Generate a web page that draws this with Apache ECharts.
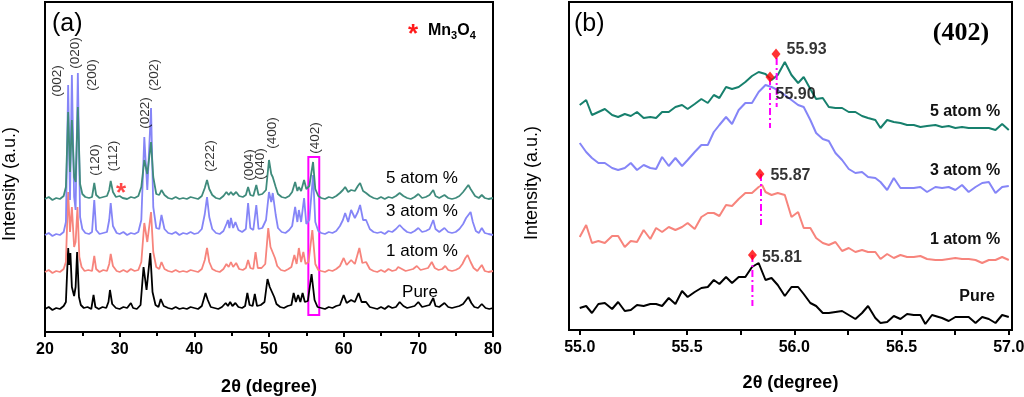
<!DOCTYPE html>
<html>
<head>
<meta charset="utf-8">
<script src="https://cdn.jsdelivr.net/npm/echarts@6/dist/echarts.min.js"></script>
<style>
  html, body { margin: 0; padding: 0; background: #fff; }
  #chart { width: 1024px; height: 397px; }
</style>
</head>
<body>
<div id="chart"></div>
<script>
// ---- panel (a): full XRD patterns, [2theta, offset intensity] ----
const pure = [[20,23],[20.5,25],[21,22],[21.5,24],[22,23],[22.5,26],[22.8,30],[23.1,84],[23.25,67],[23.4,79],[23.6,45],[23.9,36],[24.1,45],[24.3,80],[24.55,35],[24.8,27],[25.2,24],[25.7,25],[26.2,23],[26.5,37],[26.75,25],[27.2,23],[27.7,25],[28.2,24],[28.5,30],[28.7,42],[29.0,28],[29.5,24],[30,23],[30.5,25],[31,24],[31.5,29],[31.8,24],[32.3,23],[32.8,27],[33.2,65],[33.6,42],[34.1,79],[34.4,40],[34.8,27],[35.2,25],[35.5,33],[35.9,26],[36.5,24],[37,23],[37.5,25],[38,23],[38.5,24],[39,23],[39.5,25],[40,24],[40.5,23],[41,26],[41.5,39],[41.8,32],[42.2,25],[42.7,24],[43.2,23],[43.7,25],[44.2,29],[44.5,26],[44.8,30],[45.1,26],[45.5,29],[45.9,25],[46.4,24],[46.8,26],[47.1,39],[47.4,27],[47.8,26],[48.1,38],[48.4,26],[48.9,27],[49.4,30],[49.8,53],[50.1,45],[50.3,44],[50.7,35],[51,28],[51.5,25],[52,24],[52.5,26],[53,27],[53.3,39],[53.6,30],[53.9,37],[54.2,30],[54.5,39],[54.8,30],[55.2,31],[55.7,58],[56.1,32],[56.5,25],[57,24],[57.5,23],[58,25],[58.5,24],[59,26],[59.5,27],[60,37],[60.4,29],[61,32],[61.5,30],[62,39],[62.4,30],[63,30],[63.5,25],[64,24],[64.5,23],[65,25],[65.5,23],[66,26],[66.5,24],[67,25],[67.5,30],[68,26],[68.5,24],[69,25],[69.5,26],[70,30],[70.5,25],[71,26],[71.5,27],[72,34],[72.3,26],[72.8,25],[73.5,29],[74,25],[74.5,24],[75,25],[75.5,26],[76,28],[76.4,32],[76.7,35],[77.1,29],[77.5,25],[78,24],[78.5,28],[79,24],[79.5,23],[80,24]];

const atom1 = [[20,60],[20.5,62],[21,59],[21.5,61],[22,60],[22.5,63],[22.8,70],[23.1,140],[23.35,100],[23.6,125],[23.9,85],[24.1,90],[24.35,125],[24.6,75],[24.9,65],[25.3,61],[25.8,62],[26.3,61],[26.6,76],[26.85,63],[27.3,60],[27.8,62],[28.3,61],[28.6,68],[28.8,78],[29.1,66],[29.6,61],[30,60],[30.5,62],[31,60],[31.5,63],[32,61],[32.5,62],[32.9,70],[33.3,109],[33.7,90],[34.2,120],[34.5,80],[34.9,65],[35.3,63],[35.6,70],[36,63],[36.5,61],[37,60],[37.5,62],[38,60],[38.5,61],[39,60],[39.5,62],[40,61],[40.5,60],[41,63],[41.4,72],[41.7,84],[42,70],[42.4,63],[42.9,61],[43.4,60],[43.9,63],[44.3,68],[44.6,65],[44.9,70],[45.2,65],[45.6,69],[46,63],[46.5,62],[46.9,64],[47.2,72],[47.5,64],[47.9,63],[48.2,80],[48.5,64],[49,64],[49.5,68],[49.9,104],[50.2,85],[50.4,84],[50.8,74],[51.1,66],[51.6,62],[52.1,61],[52.6,63],[53,65],[53.4,77],[53.7,68],[54,84],[54.3,70],[54.6,80],[54.9,68],[55.3,70],[55.8,102],[56.2,68],[56.6,62],[57,61],[57.5,60],[58,62],[58.5,61],[59,63],[59.5,66],[60,74],[60.4,67],[61,72],[61.5,68],[62.1,84],[62.5,69],[63,70],[63.5,63],[64,61],[64.5,60],[65,62],[65.5,60],[66,63],[66.5,61],[67,62],[67.3,65],[67.8,63],[68.3,61],[68.8,62],[69.3,63],[69.8,66],[70.3,62],[70.8,63],[71.3,64],[71.8,70],[72.2,64],[72.7,62],[73.2,63],[73.6,66],[74,62],[74.5,61],[75,62],[75.5,64],[75.9,68],[76.3,74],[76.6,77],[77,70],[77.4,64],[77.9,61],[78.5,67],[78.9,61],[79.4,60],[80,61]];

const atom3 = [[20,97],[20.5,99],[21,96],[21.5,98],[22,97],[22.5,100],[22.8,110],[23.1,247],[23.35,132],[23.6,257],[23.9,135],[24.1,122],[24.4,259],[24.7,115],[25,103],[25.4,99],[25.9,98],[26.3,100],[26.6,132],[26.85,102],[27.3,98],[27.8,99],[28.3,100],[28.6,112],[28.8,129],[29.1,106],[29.6,99],[30,98],[30.5,100],[31,97],[31.5,99],[32,98],[32.5,100],[32.9,112],[33.3,195],[33.7,142],[34.2,224],[34.5,125],[34.9,104],[35.3,103],[35.6,117],[36,103],[36.5,99],[37,98],[37.5,100],[38,97],[38.5,99],[39,98],[39.5,100],[40,98],[40.5,99],[41,103],[41.4,118],[41.7,135],[42,115],[42.4,103],[42.9,99],[43.4,98],[43.9,101],[44.3,108],[44.5,112],[44.7,104],[44.9,114],[45.2,104],[45.5,110],[45.9,102],[46.4,100],[46.9,103],[47.2,129],[47.5,104],[47.9,102],[48.3,127],[48.6,103],[49.1,104],[49.6,112],[50,140],[50.3,130],[50.5,139],[50.9,117],[51.2,104],[51.7,100],[52.2,99],[52.7,102],[53.1,106],[53.5,125],[53.8,110],[54,122],[54.3,110],[54.7,134],[55,108],[55.4,112],[55.9,157],[56.2,110],[56.6,101],[57,99],[57.5,98],[58,100],[58.5,99],[59,101],[59.5,106],[59.9,112],[60.2,119],[60.6,110],[61,122],[61.5,114],[61.9,120],[62.2,127],[62.6,112],[63,112],[63.5,103],[64,100],[64.5,99],[65,100],[65.5,98],[66,101],[66.5,100],[67,103],[67.5,107],[68,103],[68.5,100],[69,99],[69.5,101],[70,104],[70.5,100],[71,101],[71.5,103],[72,112],[72.3,103],[72.8,100],[73.5,104],[74,100],[74.5,99],[75,100],[75.5,103],[76,108],[76.4,114],[76.7,117],[77,120],[77.3,110],[77.7,101],[78.1,99],[78.5,104],[78.9,99],[79.4,98],[80,97]];

const atom5 = [[20,133],[20.5,135],[21,132],[21.5,134],[22,133],[22.5,136],[22.8,145],[23.1,220],[23.35,160],[23.6,212],[23.9,155],[24.1,150],[24.4,225],[24.7,148],[25,138],[25.4,135],[25.9,134],[26.3,135],[26.6,149],[26.85,137],[27.3,134],[27.8,135],[28.3,136],[28.6,142],[28.8,151],[29.1,140],[29.5,135],[30,136],[30.4,134],[31,133],[31.5,135],[32,134],[32.5,136],[32.9,145],[33.3,172],[33.7,158],[34.2,190],[34.5,155],[34.9,138],[35.3,137],[35.6,142],[36,137],[36.5,134],[37,133],[37.5,135],[38,133],[38.5,134],[39,133],[39.5,135],[40,134],[40.5,133],[41,136],[41.4,144],[41.7,152],[42,143],[42.4,137],[42.9,134],[43.4,133],[43.9,136],[44.3,140],[44.6,137],[44.9,140],[45.2,137],[45.6,140],[46,136],[46.5,135],[46.9,137],[47.2,145],[47.5,137],[47.9,136],[48.3,147],[48.6,137],[49.1,138],[49.6,142],[50,172],[50.3,158],[50.5,155],[50.9,145],[51.2,138],[51.7,135],[52.2,134],[52.7,136],[53.1,140],[53.5,150],[53.8,141],[54,145],[54.3,141],[54.7,152],[55,143],[55.4,146],[55.9,170],[56.2,143],[56.6,136],[57,134],[57.5,133],[58,135],[58.5,134],[59,136],[59.5,139],[59.9,142],[60.2,145],[60.6,140],[61,142],[61.5,141],[61.9,146],[62.2,149],[62.6,141],[63,139],[63.5,136],[64,134],[64.5,133],[65,135],[65.5,133],[66,135],[66.5,134],[67,136],[67.5,139],[68,136],[68.5,134],[69,133],[69.5,135],[70,138],[70.5,134],[71,135],[71.5,137],[72,142],[72.3,136],[72.8,134],[73.5,137],[74,134],[74.5,133],[75,134],[75.5,136],[76,140],[76.4,144],[76.7,147],[77,143],[77.2,144],[77.6,136],[78.1,134],[78.5,137],[78.9,134],[79.4,133],[80,134]];

// reflection labels and where they sit (2theta, intensity)
const hklNames = ['(002)','(020)','(200)','(120)','(112)','(022)','(202)','(222)','(004)','(040)','(400)','(402)'];
const hklAnchors = [[21.6,251],[24.0,279],[26.3,257],[26.8,172],[29.2,176],[33.4,219],[34.7,257],[42.2,176],[47.3,167],[48.8,168],[50.4,199],[56.2,194]];
const mn3o4Peak = [[30.2,144]];
const zoomWindow = [[55.27,17],[56.73,175]];

// ---- panel (b): (402) region ----
const pure402 = [[55.000,22],[55.030,24],[55.057,17],[55.087,26],[55.117,27],[55.151,21],[55.179,28],[55.210,19],[55.238,20],[55.267,25],[55.298,24],[55.329,26],[55.356,26],[55.384,24],[55.415,32],[55.446,26],[55.477,39],[55.503,33],[55.536,38],[55.567,42],[55.597,43],[55.625,50],[55.651,46],[55.682,53],[55.710,47],[55.741,53],[55.772,53],[55.803,63],[55.834,67],[55.866,50],[55.894,52],[55.923,45],[55.956,34],[55.987,43],[56.018,43],[56.044,36],[56.075,27],[56.102,24],[56.133,17],[56.161,17],[56.192,18],[56.223,19],[56.254,15],[56.285,11],[56.316,17],[56.344,24],[56.378,12],[56.402,7],[56.433,8],[56.464,14],[56.495,11],[56.526,16],[56.557,15],[56.588,15],[56.611,6],[56.642,15],[56.689,12],[56.720,9],[56.751,13],[56.782,13],[56.813,13],[56.845,7],[56.876,13],[56.907,11],[56.938,7],[56.969,15],[57.000,13]];

const atom1_402 = [[55.000,93],[55.030,105],[55.057,87],[55.087,89],[55.117,87],[55.151,94],[55.179,94],[55.210,83],[55.238,89],[55.267,88],[55.298,100],[55.329,91],[55.356,102],[55.384,98],[55.415,103],[55.446,100],[55.477,103],[55.503,107],[55.536,101],[55.567,113],[55.597,117],[55.625,117],[55.651,114],[55.682,125],[55.710,124],[55.741,131],[55.772,137],[55.803,137],[55.834,143],[55.850,145],[55.866,138],[55.894,135],[55.923,137],[55.956,135],[55.987,113],[56.018,118],[56.044,102],[56.075,102],[56.102,92],[56.133,87],[56.161,85],[56.192,88],[56.223,79],[56.254,82],[56.285,78],[56.316,80],[56.344,78],[56.378,78],[56.402,71],[56.433,76],[56.464,72],[56.495,75],[56.526,73],[56.557,73],[56.588,74],[56.619,71],[56.658,70],[56.689,70],[56.720,71],[56.751,72],[56.782,71],[56.813,71],[56.845,70],[56.876,67],[56.907,70],[56.938,70],[56.969,73],[57.000,70]];

const atom3_402 = [[55.000,187],[55.030,178],[55.057,172],[55.087,167],[55.117,167],[55.151,162],[55.179,160],[55.210,162],[55.238,167],[55.267,160],[55.298,165],[55.329,162],[55.356,161],[55.384,173],[55.415,164],[55.446,172],[55.477,164],[55.503,170],[55.536,178],[55.567,185],[55.597,185],[55.625,198],[55.651,205],[55.682,213],[55.710,206],[55.741,220],[55.772,227],[55.803,227],[55.834,238],[55.866,245],[55.894,243],[55.923,240],[55.956,235],[55.987,230],[56.018,225],[56.044,223],[56.075,210],[56.102,197],[56.133,191],[56.161,189],[56.192,177],[56.223,170],[56.254,161],[56.285,157],[56.316,158],[56.344,153],[56.378,152],[56.402,148],[56.433,140],[56.464,152],[56.495,142],[56.526,142],[56.557,142],[56.588,143],[56.619,138],[56.658,143],[56.689,142],[56.720,143],[56.751,140],[56.782,145],[56.813,138],[56.845,143],[56.876,147],[56.907,148],[56.938,137],[56.969,143],[57.000,144]];

const atom5_402 = [[55.000,225],[55.030,230],[55.057,215],[55.117,221],[55.151,215],[55.179,213],[55.210,216],[55.238,214],[55.267,218],[55.298,212],[55.329,213],[55.356,212],[55.384,218],[55.415,218],[55.446,223],[55.477,225],[55.503,221],[55.536,226],[55.567,231],[55.597,227],[55.625,235],[55.651,232],[55.682,243],[55.710,241],[55.741,243],[55.772,248],[55.803,254],[55.834,258],[55.866,256],[55.894,250],[55.923,255],[55.956,268],[55.987,255],[56.018,247],[56.044,253],[56.075,241],[56.102,231],[56.133,232],[56.161,223],[56.192,222],[56.223,222],[56.254,218],[56.285,218],[56.316,214],[56.344,212],[56.378,210],[56.402,202],[56.433,210],[56.464,208],[56.495,207],[56.526,205],[56.557,205],[56.588,203],[56.619,204],[56.658,205],[56.689,203],[56.720,204],[56.751,202],[56.782,203],[56.813,202],[56.845,202],[56.876,202],[56.907,202],[56.938,200],[56.969,206],[57.000,200]];

// fitted peak positions: marker [2theta, intensity], label, drop line [2theta, top, bottom]
const peakMarks = [[55.915,276],[55.887,253],[55.840,156],[55.805,75]];
const peakTexts = ['55.93','55.90','55.87','55.81'];
const dropLines = [[55.918,272,223],[55.887,252,202],[55.845,156,105],[55.805,75,24]];

const ticksB = [55, 55.25, 55.5, 55.75, 56, 56.25, 56.5, 56.75, 57];
const labelsB = [55, 55.5, 56, 56.5, 57];

const colors = { pure: '#000000', a1: '#f7847c', a3: '#8585f7', a5: '#3f8b7c', a5b: '#17806d' };
const FONT = 'Liberation Sans, Arial, sans-serif';

function lineSeries(name, data, color, axis, z) {
  return {
    name: name,
    type: 'line',
    xAxisIndex: axis,
    yAxisIndex: axis,
    data: data,
    showSymbol: false,
    silent: true,
    z: z,
    lineStyle: { color: color, width: axis === 0 ? 1.8 : 2 },
    itemStyle: { color: color },
    animation: false
  };
}

const labelOffsets = [
  { distance: 6, offset: [0, -4] },
  { distance: 1, offset: [0, 18] },
  { distance: 6, offset: [0, 2] },
  { distance: 5, offset: [0, 3] }
];

const series = [
  lineSeries('Pure', pure, colors.pure, 0, 2),
  lineSeries('1 atom %', atom1, colors.a1, 0, 3),
  lineSeries('3 atom %', atom3, colors.a3, 0, 4),
  lineSeries('5 atom %', atom5, colors.a5, 0, 5),
  {
    type: 'scatter',
    xAxisIndex: 0, yAxisIndex: 0,
    symbolSize: 0,
    silent: true,
    z: 10,
    itemStyle: { color: '#000' },
    data: hklAnchors.map((p, i) => ({ value: p, name: hklNames[i] })),
    label: {
      show: true, position: 'inside', rotate: 90,
      formatter: p => p.name,
      color: '#000', textBorderWidth: 0, fontFamily: FONT, fontSize: 13.5
    },
    markArea: {
      silent: true,
      itemStyle: { color: 'rgba(0,0,0,0)', borderColor: '#ff00ff', borderWidth: 2 },
      data: [[{ coord: zoomWindow[0] }, { coord: zoomWindow[1] }]]
    }
  },
  {
    type: 'scatter',
    xAxisIndex: 0, yAxisIndex: 0,
    symbolSize: 0,
    silent: true,
    z: 10,
    itemStyle: { color: '#ff1a1a' },
    data: mn3o4Peak,
    label: {
      show: true, position: 'inside', formatter: '*',
      color: '#ff1a1a', textBorderWidth: 0, fontFamily: FONT, fontSize: 26, fontWeight: 'bold',
      offset: [0, 6]
    }
  },
  lineSeries('Pure b', pure402, colors.pure, 1, 2),
  lineSeries('1 atom % b', atom1_402, colors.a1, 1, 3),
  lineSeries('3 atom % b', atom3_402, colors.a3, 1, 4),
  lineSeries('5 atom % b', atom5_402, colors.a5b, 1, 5)
];

dropLines.forEach(d => {
  series.push({
    type: 'line',
    xAxisIndex: 1, yAxisIndex: 1,
    data: [[d[0], d[1]], [d[0], d[2]]],
    showSymbol: false,
    silent: true,
    z: 8,
    lineStyle: { color: '#ff00ff', width: 2, type: [7, 3, 2, 3] },
    animation: false
  });
});

series.push({
  type: 'scatter',
  xAxisIndex: 1, yAxisIndex: 1,
  symbol: 'diamond',
  symbolSize: [9, 11],
  silent: true,
  z: 12,
  itemStyle: { color: '#ff0000' },
  data: peakMarks.map((p, i) => ({
    value: p,
    label: Object.assign({ formatter: peakTexts[i] }, labelOffsets[i])
  })),
  label: {
    show: true, position: 'right',
    color: '#000', textBorderWidth: 0, fontFamily: FONT, fontSize: 16, fontWeight: 'bold'
  },
  animation: false
});

const axisText = { color: '#000', fontFamily: FONT, fontSize: 16, fontWeight: 'bold' };
const axisLineStyle = { color: '#000', width: 2 };

const option = {
  animation: false,
  backgroundColor: '#fff',
  grid: [
    { left: 45, top: 2, width: 448, height: 330, show: true, borderColor: '#000', borderWidth: 2, outerBoundsMode: 'none' },
    { left: 569, top: 2, width: 443, height: 328, show: true, borderColor: '#000', borderWidth: 2, outerBoundsMode: 'none' }
  ],
  xAxis: [
    {
      gridIndex: 0, type: 'value', min: 20, max: 80, interval: 10,
      name: '2θ (degree)', nameLocation: 'middle', nameGap: 46,
      nameTextStyle: { color: '#000', fontFamily: FONT, fontSize: 18, fontWeight: 'bold' },
      axisLine: { lineStyle: axisLineStyle },
      axisTick: { show: true, length: 5, lineStyle: axisLineStyle },
      minorTick: { show: true, splitNumber: 2, length: 4, lineStyle: axisLineStyle },
      axisLabel: Object.assign({ margin: 10 }, axisText),
      splitLine: { show: false }
    },
    {
      gridIndex: 1, type: 'value', min: 54.95, max: 57.015,
      name: '2θ (degree)', nameLocation: 'middle', nameGap: 44,
      nameTextStyle: { color: '#000', fontFamily: FONT, fontSize: 18, fontWeight: 'bold' },
      axisLine: { lineStyle: axisLineStyle },
      axisTick: { show: true, length: 5, lineStyle: axisLineStyle, customValues: ticksB },
      axisLabel: Object.assign({ margin: 10, customValues: labelsB, formatter: v => v.toFixed(1) }, axisText),
      splitLine: { show: false }
    }
  ],
  yAxis: [
    {
      gridIndex: 0, type: 'value', min: 0, max: 330,
      axisLine: { show: true, lineStyle: axisLineStyle },
      axisTick: { show: false }, axisLabel: { show: false }, splitLine: { show: false }
    },
    {
      gridIndex: 1, type: 'value', min: 0, max: 328,
      axisLine: { show: true, lineStyle: axisLineStyle },
      axisTick: { show: false }, axisLabel: { show: false }, splitLine: { show: false }
    }
  ],
  graphic: [
    { type: 'text', left: 52, top: 12, style: { text: '(a)', font: '25px ' + FONT, fill: '#000' } },
    { type: 'text', left: 574, top: 12, style: { text: '(b)', font: '25px ' + FONT, fill: '#000' } },
    { type: 'text', x: 10, y: 184, rotation: Math.PI / 2,
      style: { text: 'Intensity (a.u.)', font: '18px ' + FONT, fill: '#000', textAlign: 'center', textVerticalAlign: 'middle' } },
    { type: 'text', x: 532, y: 183, rotation: Math.PI / 2,
      style: { text: 'Intensity (a.u.)', font: '18px ' + FONT, fill: '#000', textAlign: 'center', textVerticalAlign: 'middle' } },
    { type: 'text', x: 413, y: 35, style: { text: '*', font: 'bold 26px ' + FONT, fill: '#ff1a1a', textAlign: 'center', textVerticalAlign: 'middle' } },
    { type: 'text', x: 428, y: 31,
      style: {
        text: '{m|Mn}{s|3}{m|O}{s|4}', textVerticalAlign: 'middle',
        rich: {
          m: { font: 'bold 16px ' + FONT, fill: '#000' },
          s: { font: 'bold 11px ' + FONT, fill: '#000', padding: [9, 0, 0, 0] }
        }
      } },
    { type: 'text', x: 422, y: 178, style: { text: '5 atom %', font: '17px ' + FONT, fill: '#000', textAlign: 'center', textVerticalAlign: 'middle' } },
    { type: 'text', x: 422, y: 211, style: { text: '3 atom %', font: '17px ' + FONT, fill: '#000', textAlign: 'center', textVerticalAlign: 'middle' } },
    { type: 'text', x: 422, y: 251, style: { text: '1 atom %', font: '17px ' + FONT, fill: '#000', textAlign: 'center', textVerticalAlign: 'middle' } },
    { type: 'text', x: 420, y: 292, style: { text: 'Pure', font: '17px ' + FONT, fill: '#000', textAlign: 'center', textVerticalAlign: 'middle' } },
    { type: 'text', x: 961, y: 33, style: { text: '(402)', font: 'bold 26px Liberation Serif, Times New Roman, serif', fill: '#000', textAlign: 'center', textVerticalAlign: 'middle' } },
    { type: 'text', x: 965, y: 112, style: { text: '5 atom %', font: 'bold 16px ' + FONT, fill: '#111', textAlign: 'center', textVerticalAlign: 'middle' } },
    { type: 'text', x: 965, y: 171, style: { text: '3 atom %', font: 'bold 16px ' + FONT, fill: '#111', textAlign: 'center', textVerticalAlign: 'middle' } },
    { type: 'text', x: 965, y: 240, style: { text: '1 atom %', font: 'bold 16px ' + FONT, fill: '#111', textAlign: 'center', textVerticalAlign: 'middle' } },
    { type: 'text', x: 977, y: 297, style: { text: 'Pure', font: 'bold 16px ' + FONT, fill: '#111', textAlign: 'center', textVerticalAlign: 'middle' } }
  ],
  series: series
};

const chart = echarts.init(document.getElementById('chart'), null, { renderer: 'canvas' });
chart.setOption(option);
</script>
</body>
</html>
